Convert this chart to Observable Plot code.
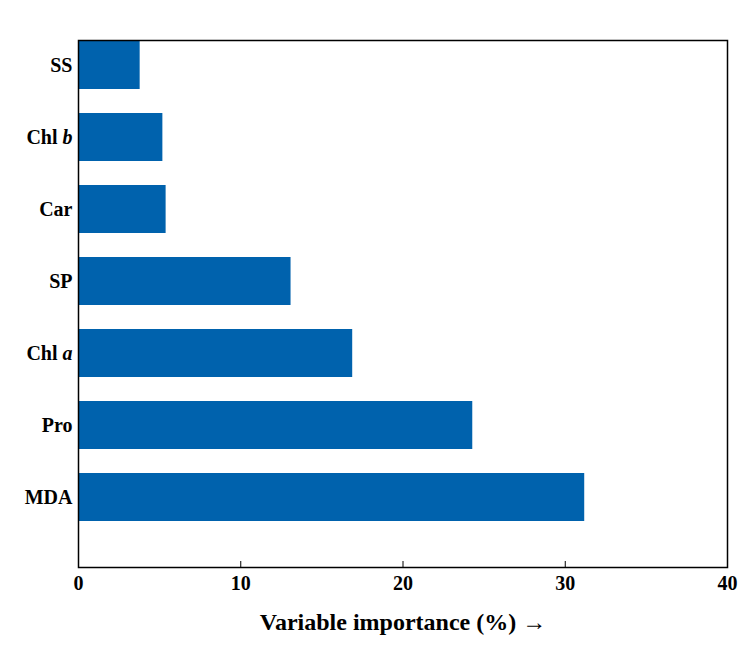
<!DOCTYPE html>
<html><head><meta charset="utf-8">
<script src="https://cdn.jsdelivr.net/npm/d3@7"></script>
<script src="https://cdn.jsdelivr.net/npm/@observablehq/plot@0.6"></script>
<style>body{margin:0;background:#fff}</style>
</head><body><div id="c"></div>
<script>
const categories = ["SS","Chl b","Car","SP","Chl a","Pro","MDA"];
const values = [3.8, 5.2, 5.4, 13.1, 16.9, 24.3, 31.2];
const xTicks = [0,10,20,30,40];
const data = categories.map((c,i)=>({name:c, v:values[i]}));
const chart = Plot.plot({
  width:750, height:657,
  marginLeft:78, marginRight:23, marginTop:40, marginBottom:90,
  style:{fontFamily:"'Liberation Serif', serif", fontWeight:"bold", fontSize:"20px", color:"#000"},
  x:{domain:[0,40]},
  y:{domain:categories, range:[17,545], paddingInner:0.33, paddingOuter:0.33},
  marks:[
    Plot.barX(data,{x:"v", y:"name", fill:"#0062ad"}),
    Plot.frame({stroke:"#000", strokeWidth:1.5}),
    Plot.axisX({ticks:xTicks, tickSize:-6, tickPadding:14, label:"Variable importance (%)", labelAnchor:"center", labelOffset:62, fontSize:20}),
    Plot.axisY({tickSize:0, tickPadding:6, label:null, fontSize:20})
  ]
});
document.getElementById("c").appendChild(chart);
d3.select(chart).selectAll("[aria-label='x-axis label'] text").style("font-size","24px");
d3.select(chart).selectAll("[aria-label='y-axis tick label'] text").each(function(){
  const t=this.textContent;
  if(t.startsWith("Chl ")){
    const s=d3.select(this); s.text(null);
    s.append("tspan").text("Chl ");
    s.append("tspan").attr("font-style","italic").text(t.slice(4));
  }
});
</script></body></html>
